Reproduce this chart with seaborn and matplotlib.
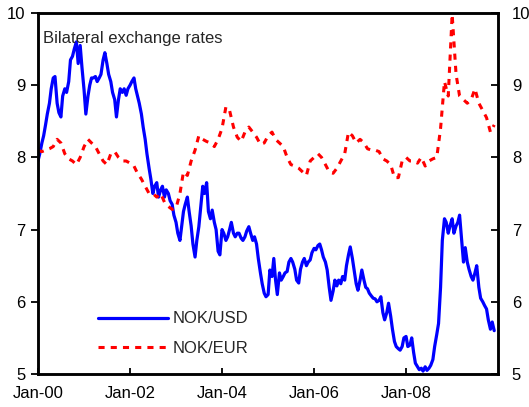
import numpy as np
import pandas as pd
import matplotlib
matplotlib.use("Agg")
import matplotlib.pyplot as plt
import matplotlib.dates as mdates
import seaborn as sns

# NOK per USD, twice a month (1st and 15th), Jan 2000 - Dec 2009
nok_usd = [
    7.95, 8.05, 8.2, 8.3, 8.45, 8.6, 8.75, 8.95, 9.1, 9.12, 8.75, 8.62,
    8.56, 8.85, 8.95, 8.9, 9.05, 9.35, 9.4, 9.5, 9.6, 9.3, 9.55, 9.25,
    8.93, 8.6, 8.85, 9.0, 9.1, 9.1, 9.12, 9.05, 9.1, 9.15, 9.35, 9.45,
    9.3, 9.15, 9.05, 8.9, 8.8, 8.56, 8.8, 8.95, 8.9, 8.95, 8.86, 8.95,
    9.0, 9.05, 9.1, 8.95, 8.85, 8.75, 8.6, 8.42, 8.25, 8.05, 7.85, 7.7,
    7.5, 7.6, 7.65, 7.45, 7.55, 7.6, 7.45, 7.55, 7.5, 7.4, 7.35, 7.2,
    7.1, 6.95, 6.85, 7.05, 7.25, 7.35, 7.45, 7.25, 7.05, 6.8, 6.62, 6.85,
    7.04, 7.3, 7.6, 7.5, 7.65, 7.25, 7.15, 7.27, 7.1, 7.0, 6.7, 6.65,
    7.0, 6.95, 6.85, 6.9, 7.0, 7.1, 6.95, 6.9, 6.95, 6.95, 6.88, 6.85,
    6.9, 6.98, 7.04, 6.95, 6.85, 6.9, 6.8, 6.6, 6.4, 6.25, 6.12, 6.07,
    6.1, 6.44, 6.35, 6.6, 6.3, 6.1, 6.4, 6.3, 6.35, 6.4, 6.42, 6.55,
    6.6, 6.55, 6.45, 6.3, 6.26, 6.45, 6.55, 6.6, 6.5, 6.55, 6.58, 6.68,
    6.74, 6.72, 6.78, 6.8, 6.72, 6.62, 6.55, 6.44, 6.2, 6.02, 6.15, 6.3,
    6.22, 6.3, 6.25, 6.35, 6.3, 6.5, 6.65, 6.76, 6.6, 6.44, 6.25, 6.16,
    6.3, 6.44, 6.3, 6.2, 6.18, 6.12, 6.08, 6.05, 6.04, 6.0, 6.02, 6.07,
    5.85, 5.75, 5.85, 5.98, 5.8, 5.62, 5.45, 5.38, 5.35, 5.33, 5.38, 5.5,
    5.52, 5.38, 5.4, 5.5, 5.3, 5.15, 5.1, 5.06, 5.08, 5.04, 5.1, 5.05,
    5.08, 5.12, 5.2, 5.38, 5.55, 5.7, 6.2, 6.85, 7.15, 7.1, 6.95, 7.05,
    7.15, 6.95, 7.05, 7.1, 7.2, 6.9, 6.55, 6.75, 6.55, 6.45, 6.35, 6.3,
    6.4, 6.5, 6.2, 6.05, 6.0, 5.95, 5.9, 5.75, 5.62, 5.72, 5.6,
]

# NOK per EUR, monthly, Jan 2000 - Dec 2009
nok_eur = [
    8.1, 8.08, 8.1, 8.12, 8.15, 8.25, 8.2, 8.05, 7.98, 7.95, 7.9, 8.0,
    8.15, 8.25, 8.2, 8.15, 8.05, 7.95, 7.9, 8.05, 8.08, 8.0, 7.95, 7.95,
    7.92, 7.88, 7.78, 7.7, 7.6, 7.5, 7.5, 7.45, 7.5, 7.38, 7.32, 7.28,
    7.3, 7.5, 7.8, 7.75, 7.95, 8.1, 8.3, 8.25, 8.22, 8.2, 8.15, 8.25,
    8.4, 8.7, 8.65, 8.42, 8.28, 8.22, 8.35, 8.42, 8.35, 8.28, 8.18, 8.2,
    8.3, 8.35, 8.25, 8.2, 8.15, 8.0, 7.9, 7.88, 7.85, 7.8, 7.75, 7.95,
    8.0, 8.05, 8.0, 7.9, 7.8, 7.78, 7.85, 7.95, 8.05, 8.35, 8.3, 8.2,
    8.25, 8.2, 8.12, 8.1, 8.1, 8.08, 7.98, 7.95, 7.9, 7.72, 7.72, 7.95,
    8.0, 7.95, 7.95, 7.92, 8.0, 7.88, 7.95, 7.98, 8.0, 8.4, 9.05, 8.85,
    9.98, 9.15, 8.85, 8.8, 8.75, 8.8, 8.95, 8.75, 8.65, 8.55, 8.35, 8.45,
]

usd_dates = pd.date_range("2000-01-01", periods=len(nok_usd), freq="SMS")
eur_dates = pd.date_range("2000-01-01", periods=len(nok_eur), freq="MS")

tick_years = [2000, 2002, 2004, 2006, 2008]

sns.set_style("ticks")
plt.rcParams["font.family"] = ["Liberation Sans", "DejaVu Sans"]
plt.rcParams["font.size"] = 12

fig = plt.figure(figsize=(5.29, 4.07), dpi=100)
ax = fig.add_axes([0.0718, 0.0811, 0.8696, 0.887])

sns.lineplot(x=usd_dates, y=nok_usd, ax=ax, color="#0000ff", linewidth=2.3,
             label="NOK/USD")
sns.lineplot(x=eur_dates, y=nok_eur, ax=ax, color="#ff0000", linewidth=2.2,
             linestyle=(0, (2, 2)), label="NOK/EUR")

ax.set_xlim(pd.Timestamp("2000-01-01"), pd.Timestamp("2009-12-31"))
ax.set_ylim(5, 10)
ax.set_yticks([5, 6, 7, 8, 9, 10])
ax.set_xticks([pd.Timestamp(f"{y}-01-01") for y in tick_years])
ax.xaxis.set_major_formatter(mdates.DateFormatter("%b-%y"))
ax.set_xlabel("")
ax.set_ylabel("")

ax.tick_params(axis="x", direction="in", length=4.5, width=1.3, pad=9,
               labelsize=12, colors="black")
ax.tick_params(axis="y", direction="out", length=5, width=1.3, pad=4,
               labelsize=12, colors="black")

ax2 = ax.twinx()
ax2.set_ylim(5, 10)
ax2.set_yticks([5, 6, 7, 8, 9, 10])
ax2.tick_params(axis="y", direction="in", length=5, width=1.3, pad=10,
                labelsize=12, colors="black")

for a in (ax, ax2):
    for s in a.spines.values():
        s.set_visible(True)
        s.set_linewidth(1.8)
        s.set_color("black")

ax.text(0.011, 0.928, "Bilateral exchange rates", transform=ax.transAxes,
        ha="left", va="center", fontsize=12)

ax.legend(loc="center left", bbox_to_anchor=(0.130, 0.112), frameon=False,
          borderpad=0, borderaxespad=0, handlelength=4.2, handletextpad=0.3,
          labelspacing=0.85, fontsize=12)

fig.savefig("out.png", dpi=100)
